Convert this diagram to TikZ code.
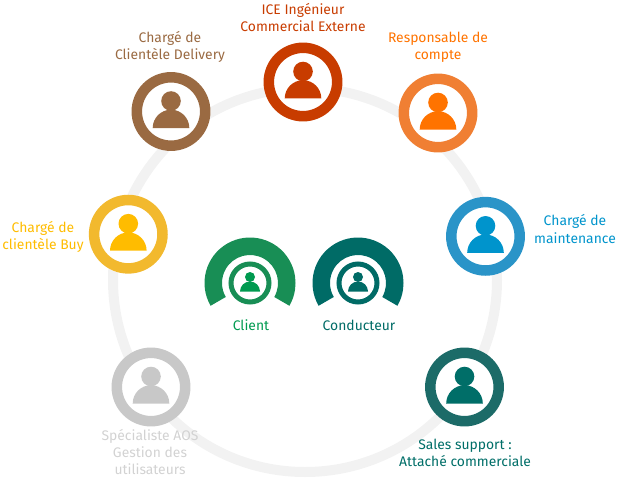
\documentclass[tikz,border=0pt]{standalone}
\usepackage{fontspec}
\setmainfont{Fira Sans}

\definecolor{iceRed}{HTML}{C83C00}
\definecolor{brownRing}{HTML}{9A6A42}
\definecolor{orangeRing}{HTML}{F07F33}
\definecolor{orangeIcon}{HTML}{FF7300}
\definecolor{yellowRing}{HTML}{F2B92E}
\definecolor{yellowIcon}{HTML}{FFBC00}
\definecolor{blueRing}{HTML}{2A94C8}
\definecolor{blueIcon}{HTML}{0094CC}
\definecolor{tealRing}{HTML}{1C6B68}
\definecolor{tealIcon}{HTML}{006E68}
\definecolor{grayRing}{HTML}{C8C8C8}
\definecolor{grayText}{HTML}{D2D2D2}
\definecolor{clientRing}{HTML}{188E55}
\definecolor{clientIcon}{HTML}{009A50}
\definecolor{conducteurRing}{HTML}{006B66}
\definecolor{trackGray}{HTML}{F2F2F2}

\tikzset{
  role/.style={align=center,font=\fontsize{7.9}{9.7}\selectfont,inner sep=0pt},
  ringline/.style={line width=0.21cm},
  innerline/.style={line width=0.1cm}
}

% ring with a person inside: x, y, ring colour, person colour
\newcommand{\personring}[4]{
  \fill [white] (#1,#2) circle (39.5);
  \draw [ringline,#3] (#1,#2) circle (34.2);
  \fill [#4] (#1,#2-10.5) circle (9.8);
  \fill [#4] (#1-18.3,#2+16.5) arc [start angle=180,end angle=360,radius=18.3] -- cycle;
}

% arch with a small ringed person below it: x, y, arch colour, person colour
\newcommand{\archperson}[4]{
  \fill [#3] (#1,#2) ++(150:45.5) arc [start angle=150,end angle=390,radius=45.5]
    -- ++(210:17.5) arc [start angle=30,end angle=-210,radius=28] -- cycle;
  \draw [innerline,#3] (#1,#2) circle (19);
  \fill [#4] (#1,#2-6) circle (5);
  \fill [#4] (#1-10,#2+8.5) arc [start angle=180,end angle=360,radius=10] -- cycle;
}

\begin{document}
\begin{tikzpicture}[x=0.2mm,y=-0.2mm]
  \useasboundingbox (0,0) rectangle (633,490);

  \draw [line width=0.2cm,trackGray] (305,280) circle (192);

  \personring{303}{82}{iceRed}{iceRed}
  \personring{171}{111.5}{brownRing}{brownRing}
  \personring{438}{113}{orangeRing}{orangeIcon}
  \personring{128.3}{234.2}{yellowRing}{yellowIcon}
  \personring{485.5}{236.3}{blueRing}{blueIcon}
  \personring{151}{387}{grayRing}{grayRing}
  \personring{464.5}{387}{tealRing}{tealIcon}

  \archperson{250}{283}{clientRing}{clientIcon}
  \archperson{358}{283}{conducteurRing}{conducteurRing}

  \node [role,text=iceRed] (ice) at (303,18) {ICE Ingénieur\\Commercial Externe};
  \node [role,text=brownRing] (delivery) at (170,47) {Chargé de\\Clientèle Delivery};
  \node [role,text=orangeIcon] (compte) at (438,47) {Responsable de\\compte};
  \node [role,text=yellowIcon] (buy) at (43,237) {Chargé de\\clientèle Buy};
  \node [role,text=blueIcon] (maintenance) at (575,229) {Chargé de\\maintenance};
  \node [role,text=grayText] (aos) at (150,452) {Spécialiste AOS\\Gestion des\\utilisateurs};
  \node [role,text=tealIcon] (sales) at (465,453) {Sales support :\\Attaché commerciale};
  \node [role,text=clientIcon] (client) at (251,325) {Client};
  \node [role,text=conducteurRing] (conducteur) at (359,325) {Conducteur};
\end{tikzpicture}
\end{document}
